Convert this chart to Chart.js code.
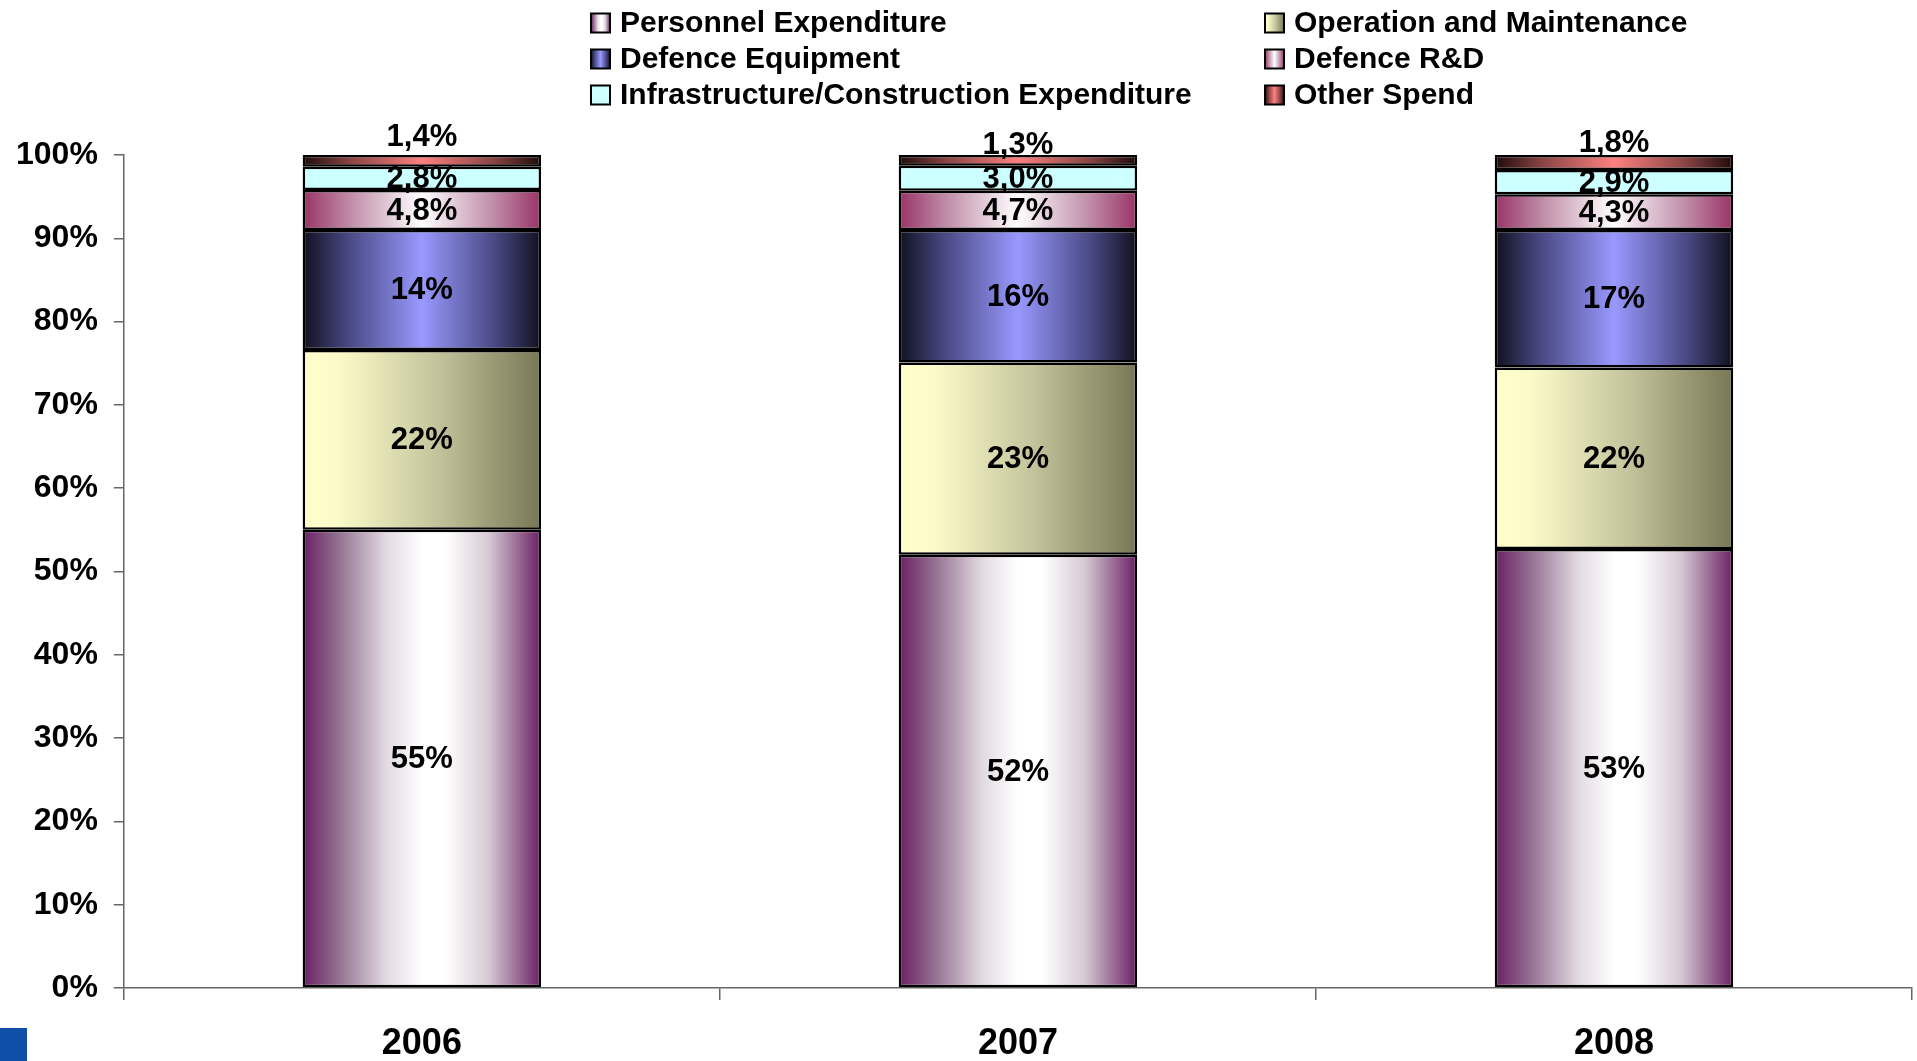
<!DOCTYPE html>
<html>
<head>
<meta charset="utf-8">
<title>Defence spending split</title>
<script src="https://cdn.jsdelivr.net/npm/chart.js@4.4.1/dist/chart.umd.min.js"></script>
<style>
    html, body { margin: 0; padding: 0; background: #fff; overflow: hidden; }
    #wrap { position: relative; width: 1917px; height: 1061px; }
    #corner { position: absolute; left: 0; top: 1028px; width: 27px; height: 33px; background: #0f4fa8; }
</style>
</head>
<body>
<div id="wrap">
    <canvas id="myChart" width="1917" height="1061"></canvas>
    <div id="corner"></div>
</div>
<script>
const years = ['2006', '2007', '2008'];
const seriesNames = [
    'Personnel Expenditure',
    'Operation and Maintenance',
    'Defence Equipment',
    'Defence R&D',
    'Infrastructure/Construction Expenditure',
    'Other Spend',
];
const personnel = [55.0, 52.0, 52.7];
const operation = [21.6, 23.1, 21.8];
const equipment = [14.4, 15.9, 16.5];
const research = [4.8, 4.7, 4.3];
const infrastructure = [2.8, 3.0, 2.9];
const otherSpend = [1.4, 1.3, 1.8];
const yTickStep = 10;

const font = '"Liberation Sans", Arial, sans-serif';

// horizontal gradient stops for each series (same order as seriesNames)
const fills = [
    [[0, '#6a1f64'], [0.15, '#937091'], [0.35, '#e2dae1'], [0.5, '#ffffff'], [0.6, '#ffffff'], [0.78, '#d6cad4'], [1, '#6a1f64']],
    [[0, '#ffffcc'], [0.15, '#fbfbc9'], [0.55, '#c6c69e'], [1, '#777755']],
    [[0, '#10101e'], [0.18, '#45457e'], [0.5, '#9999ff'], [0.82, '#45457e'], [1, '#10101e']],
    [[0, '#993366'], [0.2, '#c08da8'], [0.5, '#ffffff'], [0.8, '#c08da8'], [1, '#993366']],
    [[0, '#ccffff'], [1, '#ccffff']],
    [[0, '#1e0a0a'], [0.2, '#8a4444'], [0.5, '#ff8080'], [0.8, '#8a4444'], [1, '#1e0a0a']],
];

const barShare = 0.4;
// the small top labels sit above their thin segments, lifted by hand in the original
const topLabelLift = [19, 11, 13];

const gradientFor = (stops) => (ctx) => {
    const chart = ctx.chart;
    const xs = chart.scales.x;
    if (!chart.chartArea || !xs || ctx.type !== 'data') return stops[0][1];
    const center = xs.getPixelForValue(ctx.dataIndex);
    const half = xs.width / years.length * barShare / 2;
    const g = chart.ctx.createLinearGradient(center - half, 0, center + half, 0);
    stops.forEach(([p, c]) => g.addColorStop(p, c));
    return g;
};

const formatShare = (v) => v >= 10 ? Math.round(v) + '%' : v.toFixed(1).replace('.', ',') + '%';

const segmentLabels = {
    id: 'segmentLabels',
    afterDatasetsDraw(chart) {
        const c = chart.ctx;
        const last = chart.data.datasets.length - 1;
        c.save();
        c.font = 'bold 31px ' + font;
        c.fillStyle = '#000';
        c.textAlign = 'center';
        c.textBaseline = 'middle';
        chart.data.datasets.forEach((ds, di) => {
            chart.getDatasetMeta(di).data.forEach((bar, i) => {
                let y = (bar.y + bar.base) / 2;
                if (di === last) y = bar.y - topLabelLift[i];
                c.fillText(formatShare(ds.data[i]), bar.x, y + 1);
            });
        });
        c.restore();
    }
};

const twoColumnLegend = {
    id: 'twoColumnLegend',
    afterDraw(chart) {
        const c = chart.ctx;
        const cols = [591, 1265];
        const rows = [23, 59, 95];
        const box = 19;
        c.save();
        c.font = 'bold 30px ' + font;
        c.textAlign = 'left';
        c.textBaseline = 'middle';
        chart.data.datasets.forEach((ds, i) => {
            const x = cols[i % 2];
            const y = rows[Math.floor(i / 2)];
            const g = c.createLinearGradient(x, 0, x + box, 0);
            fills[i].forEach(([p, col]) => g.addColorStop(p, col));
            c.fillStyle = g;
            c.fillRect(x, y - box / 2, box, box);
            c.lineWidth = 2;
            c.strokeStyle = '#000';
            c.strokeRect(x, y - box / 2, box, box);
            c.fillStyle = '#000';
            c.fillText(ds.label, x + 29, y + 1);
        });
        c.restore();
    }
};

const seriesValues = [personnel, operation, equipment, research, infrastructure, otherSpend];

const ctx = document.getElementById('myChart');
const chart = new Chart(ctx, {
    type: 'bar',
    data: {
        labels: years,
        datasets: seriesNames.map((label, i) => ({
            label,
            data: seriesValues[i],
            backgroundColor: gradientFor(fills[i]),
            borderColor: '#000',
            borderWidth: 2.5,
            borderSkipped: false,
            barPercentage: barShare,
            categoryPercentage: 1,
        })),
    },
    options: {
        responsive: false,
        animation: false,
        devicePixelRatio: 1,
        layout: { padding: { left: 0, right: 5, top: 155, bottom: 0 } },
        plugins: {
            legend: { display: false },
            tooltip: { enabled: false },
        },
        scales: {
            x: {
                stacked: true,
                grid: { drawOnChartArea: false, tickLength: 12, color: '#666', lineWidth: 1.5, offset: true },
                border: { color: '#666', width: 1.5 },
                ticks: { color: '#000', padding: 26, font: { family: font, size: 36, weight: 'bold', lineHeight: 1 } },
                afterFit: (scale) => { scale.height = 73; },
            },
            y: {
                stacked: true,
                min: 0,
                max: 100,
                grid: { drawOnChartArea: false, tickLength: 10, color: '#666', lineWidth: 1.5 },
                border: { color: '#666', width: 1.5 },
                ticks: {
                    stepSize: yTickStep,
                    color: '#000',
                    padding: 16,
                    font: { family: font, size: 32, weight: 'bold' },
                    callback: (v) => v + '%',
                },
            },
        },
    },
    plugins: [segmentLabels, twoColumnLegend],
});
</script>
</body>
</html>
